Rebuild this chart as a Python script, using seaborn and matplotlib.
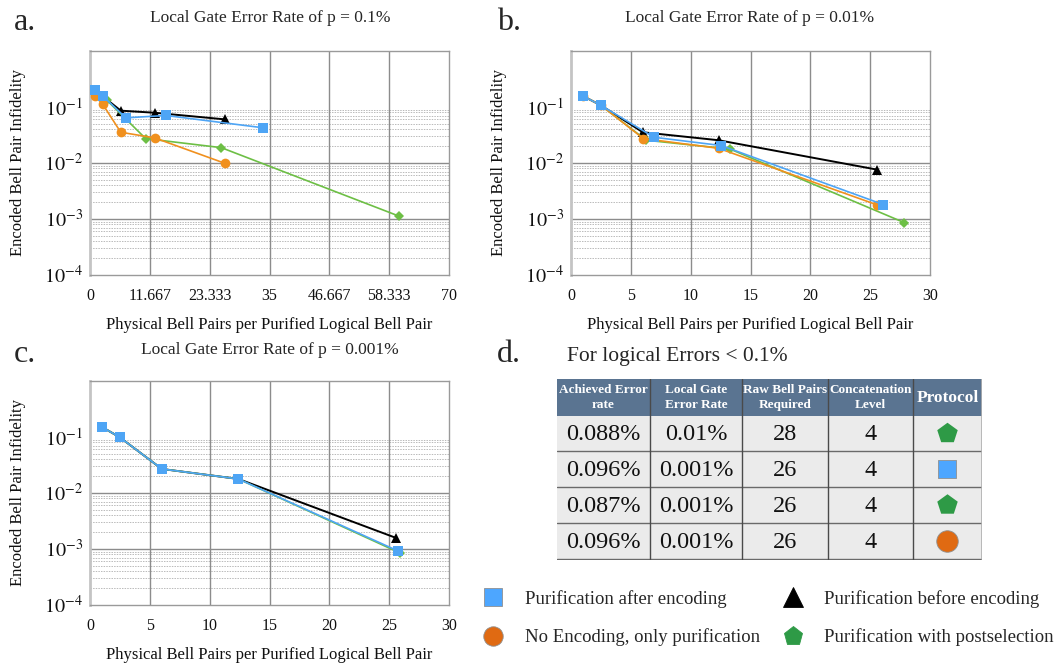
import numpy as np
import pandas as pd
import matplotlib
matplotlib.use("Agg")
import matplotlib.pyplot as plt
import seaborn as sns
from matplotlib.patches import Rectangle
from matplotlib.lines import Line2D

# ---------------- data ----------------
protocols = ["Purification after encoding", "No Encoding, only purification",
             "Purification before encoding", "Purification with postselection"]

# panel a : p = 0.1%
a_after_x = [1, 2.5, 7, 14.8, 33.8]
a_after_y = [0.199, 0.157, 0.064, 0.0706, 0.0425]
a_before_x = [1, 2.5, 6, 12.6, 26.4]
a_before_y = [0.2, 0.155, 0.086, 0.079, 0.060]
a_noenc_x = [1, 2.5, 6, 12.6, 26.4]
a_noenc_y = [0.157, 0.111, 0.0354, 0.0281, 0.0098]
a_post_x = [1, 3.25, 10.85, 25.6, 60.2]
a_post_y = [0.19, 0.133, 0.0273, 0.0188, 0.00113]

# panel b : p = 0.01%
b_after_x = [1, 2.5, 6.94, 12.55, 26.1]
b_after_y = [0.157, 0.107, 0.0288, 0.0205, 0.00181]
b_before_x = [1, 2.5, 6, 12.33, 25.6]
b_before_y = [0.157, 0.107, 0.0354, 0.0255, 0.0076]
b_noenc_x = [1, 2.5, 6.05, 12.33, 25.6]
b_noenc_y = [0.157, 0.107, 0.0273, 0.0183, 0.00178]
b_post_x = [1, 2.5, 6.28, 13.27, 27.86]
b_post_y = [0.157, 0.107, 0.0255, 0.0178, 0.00086]

# panel c : p = 0.001%
c_after_x = [1, 2.5, 6, 12.4, 25.7]
c_after_y = [0.151, 0.0984, 0.0269, 0.0178, 0.00093]
c_before_x = [1, 2.5, 6, 12.4, 25.6]
c_before_y = [0.151, 0.0984, 0.0269, 0.0178, 0.00157]
c_post_x = [1, 2.5, 6, 12.4, 25.9]
c_post_y = [0.151, 0.0984, 0.0269, 0.0178, 0.00085]

a_xticks = [0, 11.667, 23.333, 35, 46.667, 58.333, 70]
a_xticklabels = ["0", "11.667", "23.333", "35", "46.667", "58.333", "70"]
bc_xticks = [0, 5, 10, 15, 20, 25, 30]
y_ticks = [1e-4, 1e-3, 1e-2, 1e-1]

titles = ["Local Gate Error Rate of p = 0.1%", "Local Gate Error Rate of p = 0.01%",
          "Local Gate Error Rate of p = 0.001%"]
xlabel = "Physical Bell Pairs per Purified Logical Bell Pair"
ylabel = "Encoded Bell Pair Infidelity"

table_title = "For logical Errors < 0.1%"
table_header = ["Achieved Error\nrate", "Local Gate\nError Rate", "Raw Bell Pairs\nRequired",
                "Concatenation\nLevel", "Protocol"]
achieved = ["0.088%", "0.096%", "0.087%", "0.096%"]
local_rate = ["0.01%", "0.001%", "0.001%", "0.001%"]
raw_pairs = ["28", "26", "26", "26"]
concat_level = ["4", "4", "4", "4"]
row_protocol = ["Purification with postselection", "Purification after encoding",
                "Purification with postselection", "No Encoding, only purification"]

# ---------------- styles ----------------
sns.set_theme(style="white")
plt.rcParams["font.family"] = ["Liberation Serif", "DejaVu Serif"]
plt.rcParams["mathtext.fontset"] = "stix"

line_style = {
    "Purification before encoding": dict(color="black", marker="^", markersize=7, lw=1.4),
    "Purification with postselection": dict(color="#6dbf45", marker="D", markersize=5, lw=1.2),
    "No Encoding, only purification": dict(color="#f0901e", marker="o", markersize=7, lw=1.2),
    "Purification after encoding": dict(color="#4ea5f5", marker="s", markersize=7, lw=1.2),
}
leg_color = {"Purification after encoding": "#4da6ff",
             "No Encoding, only purification": "#e06a12",
             "Purification before encoding": "black",
             "Purification with postselection": "#2e9a46"}
leg_marker = {"Purification after encoding": "s",
              "No Encoding, only purification": "o",
              "Purification before encoding": "^",
              "Purification with postselection": "p"}

W, H = 1064, 669
fig = plt.figure(figsize=(W / 100, H / 100), dpi=100)


def px_axes(l, t, r, b):
    return fig.add_axes([l / W, 1 - b / H, (r - l) / W, (b - t) / H])


def style_panel(ax, xlim, xticks, xticklabels):
    ax.set_yscale("log")
    ax.set_xlim(*xlim)
    ax.set_ylim(1e-4, 1)
    for k in (-4, -3, -2):
        for m in range(2, 10):
            ax.axhline(m * 10.0 ** k, color="#bababa", lw=0.7, ls=(0, (1.5, 1.2)), zorder=0.5)
    for v in (1e-3, 1e-2):
        ax.axhline(v, color="#8c8c8c", lw=1.0, zorder=0.6)
    for xv in xticks[1:-1]:
        ax.axvline(xv, color="#8c8c8c", lw=1.0, zorder=0.6)
    ax.set_xticks(xticks)
    ax.set_xticklabels(xticklabels)
    ax.set_yticks(y_ticks)
    ax.set_yticklabels([r"$10^{-4}$", r"$10^{-3}$", r"$10^{-2}$", r"$10^{-1}$"])
    ax.yaxis.set_minor_locator(matplotlib.ticker.NullLocator())
    ax.tick_params(axis="both", length=0)
    ax.tick_params(axis="x", labelsize=11.5, pad=9, colors="#111111")
    ax.tick_params(axis="y", labelsize=14.5, pad=5, colors="#111111")
    for s in ax.spines.values():
        s.set_color("#9a9a9a")
        s.set_linewidth(1.0)
    ax.spines["left"].set_color("#c4c4c4")
    ax.spines["left"].set_linewidth(2.0)
    ax.set_xlabel(xlabel, fontsize=12, labelpad=10, color="#111111")
    ax.set_ylabel(ylabel, fontsize=12, labelpad=13, color="#111111")


def draw_series(ax, series):
    for name, xs, ys in series:
        st = line_style[name]
        df = pd.DataFrame({"x": xs, "y": ys})
        sns.lineplot(data=df, x="x", y="y", ax=ax, sort=False, estimator=None,
                     color=st["color"], marker=st["marker"], markersize=st["markersize"],
                     linewidth=st["lw"], markeredgewidth=0, legend=False, zorder=3)


# panel a
ax_a = px_axes(90, 51, 449, 275)
style_panel(ax_a, (0, 70), a_xticks, a_xticklabels)
draw_series(ax_a, [("Purification before encoding", a_before_x, a_before_y),
                   ("Purification with postselection", a_post_x, a_post_y),
                   ("No Encoding, only purification", a_noenc_x, a_noenc_y),
                   ("Purification after encoding", a_after_x, a_after_y)])

# panel b
ax_b = px_axes(571, 51, 930, 275)
style_panel(ax_b, (0, 30), bc_xticks, [str(v) for v in bc_xticks])
draw_series(ax_b, [("Purification before encoding", b_before_x, b_before_y),
                   ("Purification with postselection", b_post_x, b_post_y),
                   ("No Encoding, only purification", b_noenc_x, b_noenc_y),
                   ("Purification after encoding", b_after_x, b_after_y)])

# panel c
ax_c = px_axes(90, 381, 449, 605)
style_panel(ax_c, (0, 30), bc_xticks, [str(v) for v in bc_xticks])
draw_series(ax_c, [("Purification before encoding", c_before_x, c_before_y),
                   ("Purification with postselection", c_post_x, c_post_y),
                   ("Purification after encoding", c_after_x, c_after_y)])

# titles and panel letters
fig.text(270 / W, 1 - 18 / H, titles[0], ha="center", va="center", fontsize=12.5)
fig.text(750 / W, 1 - 18 / H, titles[1], ha="center", va="center", fontsize=12.5)
fig.text(270 / W, 1 - 350 / H, titles[2], ha="center", va="center", fontsize=12.5)
for lab, x, y in (("a.", 14, 22), ("b.", 497, 22), ("c.", 14, 354), ("d.", 497, 354)):
    fig.text(x / W, 1 - y / H, lab, ha="left", va="center", fontsize=23)

# ---------------- table d ----------------
fig.text(567 / W, 1 - 357 / H, table_title, ha="left", va="center", fontsize=15.5)
ax_t = px_axes(557, 379, 982, 560)
ax_t.set_xlim(557, 982)
ax_t.set_ylim(560, 379)
ax_t.axis("off")
col_edges = [557, 650, 742, 828, 913, 982]
row_edges = [379, 416, 451, 487, 523, 559]
ax_t.add_patch(Rectangle((557, 379), 982 - 557, 416 - 379, facecolor="#5a7491", edgecolor="none"))
ax_t.add_patch(Rectangle((557, 416), 982 - 557, 559 - 416, facecolor="#ebebeb", edgecolor="none"))
for yv in row_edges[2:]:
    ax_t.plot([557, 982], [yv, yv], color="#6a6a6a", lw=1.0)
for xv in col_edges[1:-1]:
    ax_t.plot([xv, xv], [379, 559], color="#4a4a4a", lw=1.0)
ax_t.plot([982, 982], [379, 559], color="#b0b0b0", lw=1.2)
centers = [(col_edges[i] + col_edges[i + 1]) / 2 for i in range(5)]
for i, h in enumerate(table_header):
    ax_t.text(centers[i], 397.5, h, ha="center", va="center", color="white",
              fontweight="bold", fontsize=12.5 if i == 4 else 9.5, linespacing=1.25)
rows = list(zip(achieved, local_rate, raw_pairs, concat_level))
for r, vals in enumerate(rows):
    yc = (row_edges[r + 1] + row_edges[r + 2]) / 2
    for c, v in enumerate(vals):
        ax_t.text(centers[c], yc + 1, v, ha="center", va="center", fontsize=17.5, color="#111111")
    nm = row_protocol[r]
    ax_t.scatter([centers[4]], [yc], marker=leg_marker[nm], s=240 if leg_marker[nm] != "s" else 170,
                 color=leg_color[nm], edgecolor="#909090" if nm != "Purification with postselection" else "none",
                 linewidth=0.6, zorder=3)

# ---------------- legend ----------------
leg_order = ["Purification after encoding", "No Encoding, only purification",
             "Purification before encoding", "Purification with postselection"]
handles = [Line2D([], [], ls="none", marker=leg_marker[n], color=leg_color[n],
                  markersize=14 if leg_marker[n] != "s" else 12.5,
                  markeredgecolor="#909090" if leg_marker[n] in ("s", "o") else leg_color[n],
                  markeredgewidth=0.6) for n in leg_order]
fig.legend(handles, leg_order, loc="upper left", bbox_to_anchor=(474 / W, 1 - 590 / H),
           ncol=2, frameon=False, fontsize=13.5, handletextpad=0.7, columnspacing=0.75,
           labelspacing=1.1, borderaxespad=0, borderpad=0)

fig.savefig("out.png", dpi=100)
